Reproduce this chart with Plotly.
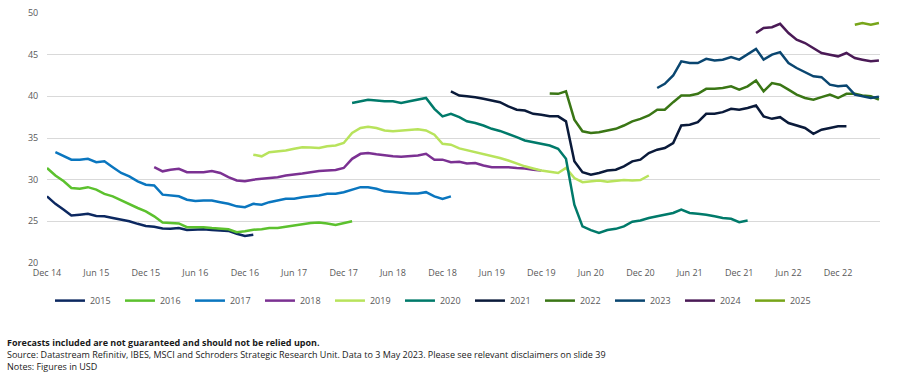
import pandas as pd
import plotly.graph_objects as go

# ---- data (monthly readings, month-start dates) ----
years = ["2015", "2016", "2017", "2018", "2019", "2020", "2021", "2022", "2023", "2024", "2025"]
starts = ["2014-12-01", "2014-12-01", "2015-01-01", "2016-01-01", "2017-01-01", "2018-01-01",
          "2019-01-01", "2020-01-01", "2021-02-01", "2022-02-01", "2023-02-01"]

eps_2015 = [28.0, 27.1, 26.4, 25.7, 25.8, 25.9, 25.65, 25.6, 25.4, 25.2, 25.0, 24.7, 24.45, 24.35,
            24.15, 24.1, 24.2, 23.95, 24.0, 24.05, 23.95, 23.9, 23.85, 23.5, 23.25, 23.4]
eps_2016 = [31.4, 30.5, 29.8, 29.0, 28.9, 29.1, 28.8, 28.3, 28.0, 27.5, 27.1, 26.6, 26.2, 25.6,
            24.85, 24.8, 24.75, 24.3, 24.3, 24.3, 24.2, 24.1, 24.05, 23.7, 23.8, 24.0, 24.05, 24.2,
            24.2, 24.35, 24.5, 24.65, 24.8, 24.85, 24.75, 24.55, 24.8, 25.0]
eps_2017 = [33.3, 32.8, 32.4, 32.4, 32.5, 32.1, 32.2, 31.5, 30.8, 30.4, 29.8, 29.4, 29.3, 28.2,
            28.1, 28.0, 27.6, 27.45, 27.5, 27.5, 27.3, 27.1, 26.8, 26.7, 27.1, 27.0, 27.3, 27.5,
            27.7, 27.7, 27.9, 28.0, 28.1, 28.3, 28.3, 28.5, 28.8, 29.1, 29.1, 28.9, 28.6, 28.5,
            28.4, 28.35, 28.35, 28.5, 28.0, 27.7, 28.0]
eps_2018 = [31.5, 31.0, 31.2, 31.3, 30.9, 30.9, 30.9, 31.05, 30.8, 30.3, 29.9, 29.8, 30.0, 30.1,
            30.2, 30.3, 30.5, 30.6, 30.75, 30.9, 31.05, 31.1, 31.15, 31.4, 32.5, 33.1, 33.2, 33.05,
            32.9, 32.8, 32.75, 32.8, 32.9, 33.1, 32.4, 32.4, 32.1, 32.15, 31.95, 32.0, 31.7, 31.5,
            31.5, 31.5, 31.4, 31.35, 31.2, 31.1]
eps_2019 = [33.0, 32.8, 33.3, 33.4, 33.5, 33.7, 33.9, 33.85, 33.8, 34.0, 34.1, 34.4, 35.6, 36.2,
            36.35, 36.2, 35.9, 35.8, 35.9, 35.95, 36.05, 35.9, 35.4, 34.3, 34.2, 33.75, 33.55, 33.3,
            33.1, 32.9, 32.6, 32.3, 31.9, 31.6, 31.35, 31.1, 30.95, 30.8, 31.4, 30.2, 29.7, 29.8,
            29.9, 29.75, 29.85, 29.95, 29.9, 29.95, 30.5]
eps_2020 = [39.2, 39.4, 39.6, 39.5, 39.4, 39.4, 39.2, 39.4, 39.6, 39.8, 38.5, 37.6, 37.9, 37.5,
            37.0, 36.8, 36.5, 36.1, 35.85, 35.5, 35.1, 34.7, 34.5, 34.35, 34.1, 33.7, 32.5, 27.0,
            24.4, 23.95, 23.6, 23.95, 24.1, 24.4, 24.95, 25.1, 25.4, 25.6, 25.8, 26.0, 26.4, 26.0,
            25.9, 25.8, 25.6, 25.4, 25.3, 24.9, 25.1]
eps_2021 = [40.6, 40.1, 40.0, 39.9, 39.7, 39.5, 39.3, 38.8, 38.4, 38.3, 37.9, 37.8, 37.6, 37.6,
            37.0, 32.2, 30.9, 30.6, 30.8, 31.1, 31.2, 31.6, 32.2, 32.4, 33.2, 33.6, 33.8, 34.4,
            36.5, 36.6, 36.9, 37.9, 37.9, 38.1, 38.5, 38.4, 38.6, 38.9, 37.6, 37.3, 37.5, 36.8,
            36.5, 36.2, 35.5, 36.0, 36.2, 36.4, 36.4]
eps_2022 = [40.35, 40.3, 40.6, 37.2, 35.8, 35.6, 35.7, 35.9, 36.1, 36.5, 37.0, 37.3, 37.7, 38.4,
            38.4, 39.3, 40.1, 40.1, 40.3, 40.9, 40.9, 41.0, 41.2, 40.8, 41.2, 41.9, 40.6, 41.6,
            41.4, 40.8, 40.2, 39.8, 39.6, 39.9, 40.2, 39.8, 40.3, 40.3, 40.1, 40.0, 39.6]
eps_2023 = [41.0, 41.5, 42.5, 44.2, 44.0, 44.0, 44.5, 44.3, 44.4, 44.7, 44.4, 45.0, 45.7, 44.4,
            45.0, 45.3, 44.0, 43.4, 42.9, 42.4, 42.3, 41.4, 41.2, 41.3, 40.2, 40.0, 39.8, 39.95]
eps_2024 = [47.6, 48.2, 48.3, 48.7, 47.6, 46.8, 46.4, 45.8, 45.2, 45.0, 44.8, 45.2, 44.6, 44.4,
            44.2, 44.3]
eps_2025 = [48.6, 48.8, 48.6, 48.8]

series_values = [eps_2015, eps_2016, eps_2017, eps_2018, eps_2019, eps_2020, eps_2021,
                 eps_2022, eps_2023, eps_2024, eps_2025]
colors = ["#0c2860", "#5cc12e", "#0a76bf", "#7b3192", "#b8e35c", "#007a6a",
          "#0a1a3a", "#3a7615", "#0a4670", "#4a1a56", "#77a519"]

tick_dates = ["2014-12-01", "2015-06-01", "2015-12-01", "2016-06-01", "2016-12-01", "2017-06-01",
              "2017-12-01", "2018-06-01", "2018-12-01", "2019-06-01", "2019-12-01", "2020-06-01",
              "2020-12-01", "2021-06-01", "2021-12-01", "2022-06-01", "2022-12-01"]
tick_labels = ["Dec 14", "Jun 15", "Dec 15", "Jun 16", "Dec 16", "Jun 17", "Dec 17", "Jun 18",
               "Dec 18", "Jun 19", "Dec 19", "Jun 20", "Dec 20", "Jun 21", "Dec 21", "Jun 22",
               "Dec 22"]
y_ticks = [20, 25, 30, 35, 40, 45, 50]

notes_bold = "Forecasts included are not guaranteed and should not be relied upon."
notes_source = ("Source: Datastream Refinitiv, IBES, MSCI and Schroders Strategic Research Unit. "
                "Data to 3 May 2023. Please see relevant disclaimers on slide 39")
notes_usd = "Notes: Figures in USD"

FONT = "Open Sans, Noto Sans, DejaVu Sans, sans-serif"
GREY = "#595959"

fig = go.Figure()
for name, start, vals, col in zip(years, starts, series_values, colors):
    dates = pd.date_range(start=start, periods=len(vals), freq="MS")
    fig.add_trace(go.Scatter(x=dates, y=vals, mode="lines", name=name,
                             line=dict(color=col, width=2.5)))

fig.update_layout(
    width=902, height=374,
    margin=dict(l=47, r=22, t=13, b=111, autoexpand=False),
    paper_bgcolor="white", plot_bgcolor="white",
    font=dict(family=FONT, size=9, color=GREY),
    showlegend=True,
    legend=dict(orientation="h", xref="container", yref="container",
                x=0.0554, y=0.235, xanchor="left", yanchor="top",
                entrywidth=25, entrywidthmode="pixels", itemwidth=30,
                font=dict(family=FONT, size=9, color=GREY),
                tracegroupgap=0),
)
fig.update_xaxes(type="date", range=["2014-12-01", "2023-05-05"],
                 tickmode="array", tickvals=tick_dates, ticktext=tick_labels,
                 showgrid=False, zeroline=False, showline=False,
                 ticks="outside", ticklen=1, tickcolor="rgba(0,0,0,0)",
                 tickfont=dict(family=FONT, size=9, color=GREY))
fig.update_yaxes(range=[20, 50], tickmode="array", tickvals=y_ticks,
                 showgrid=True, gridcolor="#d9d9d9", gridwidth=1,
                 zeroline=False, showline=False,
                 ticks="outside", ticklen=6, tickcolor="rgba(0,0,0,0)",
                 tickfont=dict(family=FONT, size=9, color=GREY))

for txt, shift, bold in [(notes_bold, -79.5, True), (notes_source, -91.5, False),
                         (notes_usd, -103, False)]:
    fig.add_annotation(text=("<b>" + txt + "</b>") if bold else txt, xref="paper", yref="paper",
                       x=-42/833, y=0, xanchor="left", yanchor="middle", yshift=shift,
                       showarrow=False, font=dict(family=FONT, size=9, color="#1a1a1a"))

fig.write_html("out.html", config={"displayModeBar": False},
               post_script="document.body.style.margin='0px';")
